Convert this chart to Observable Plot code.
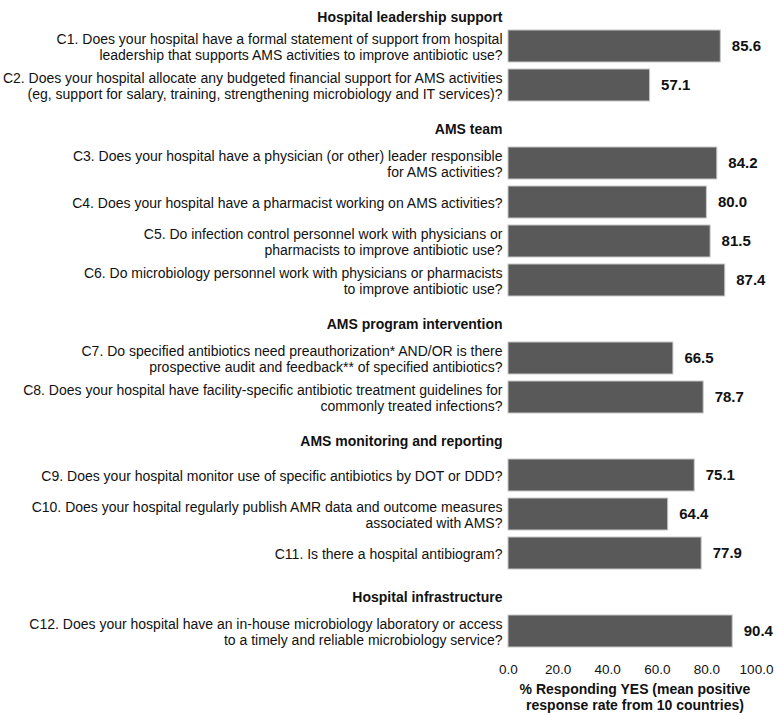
<!DOCTYPE html>
<html>
<head>
<meta charset="utf-8">
<script src="https://cdn.jsdelivr.net/npm/d3@7"></script>
<script src="https://cdn.jsdelivr.net/npm/@observablehq/plot@0.6"></script>
<style>
  body { margin: 0; background: #fff; font-family: "Liberation Sans", Arial, sans-serif; }
  #chart { width: 777px; }
  .xtitle { position: absolute; left: 508px; width: 254px; top: 681px; text-align: center; font-weight: bold; font-size: 14px; line-height: 16px; color: #111; }
</style>
</head>
<body>
<div id="chart"></div>
<div class="xtitle">% Responding YES (mean positive<br>response rate from 10 countries)</div>
<script>
const rows = ["H1","C1","C2","H2","C3","C4","C5","C6","H3","C7","C8","H4","C9","C10","C11","H5","C12"];
const headerIds = ["H1","H2","H3","H4","H5"];
const headerTexts = ["Hospital leadership support","AMS team","AMS program intervention","AMS monitoring and reporting","Hospital infrastructure"];
const questionIds = ["C1","C2","C3","C4","C5","C6","C7","C8","C9","C10","C11","C12"];
const questionTexts = [
  "C1. Does your hospital have a formal statement of support from hospital\nleadership that supports AMS activities to improve antibiotic use?",
  "C2. Does your hospital allocate any budgeted financial support for AMS activities\n(eg, support for salary, training, strengthening microbiology and IT services)?",
  "C3. Does your hospital have a physician (or other) leader responsible\nfor AMS activities?",
  "C4. Does your hospital have a pharmacist working on AMS activities?",
  "C5. Do infection control personnel work with physicians or\npharmacists to improve antibiotic use?",
  "C6. Do microbiology personnel work with physicians or pharmacists\nto improve antibiotic use?",
  "C7. Do specified antibiotics need preauthorization* AND/OR is there\nprospective audit and feedback** of specified antibiotics?",
  "C8. Does your hospital have facility-specific antibiotic treatment guidelines for\ncommonly treated infections?",
  "C9. Does your hospital monitor use of specific antibiotics by DOT or DDD?",
  "C10. Does your hospital regularly publish AMR data and outcome measures\nassociated with AMS?",
  "C11. Is there a hospital antibiogram?",
  "C12. Does your hospital have an in-house microbiology laboratory or access\nto a timely and reliable microbiology service?"
];
const values = [85.6, 57.1, 84.2, 80.0, 81.5, 87.4, 66.5, 78.7, 75.1, 64.4, 77.9, 90.4];
const xTicks = [0, 20, 40, 60, 80, 100];

const questions = questionIds.map((id, i) => ({id, text: questionTexts[i], value: values[i]}));
const headers = headerIds.map((id, i) => ({id, text: headerTexts[i]}));

const font = "'Liberation Sans', Arial, sans-serif";
const chart = Plot.plot({
  width: 777,
  height: 676,
  marginLeft: 508,
  marginRight: 15,
  marginTop: 0,
  marginBottom: 22,
  style: {fontFamily: font, color: "#111", background: "#fff", overflow: "visible"},
  x: {domain: [0, 100], range: [508, 756], label: null},
  y: {domain: rows, range: [-14.6, 651.5], paddingInner: 0.19, paddingOuter: 0, axis: null},
  marks: [
    Plot.ruleX([0], {y1: rows[0], y2: rows[rows.length - 1], stroke: "#d8d8d8", strokeWidth: 1.5, insetTop: -20, insetBottom: -20}),
    Plot.barX(questions, {x: "value", y: "id", fill: "#595959", stroke: "#c8c8c8", strokeWidth: 1}),
    Plot.text(questions, {x: "value", y: "id", text: d => d.value.toFixed(1), textAnchor: "start", dx: 11, fontWeight: "bold", fontSize: 15, fill: "#111"}),
    Plot.text(questions, {x: 0, y: "id", text: "text", textAnchor: "end", dx: -6, fontSize: 14, lineHeight: 1.15, fill: "#111"}),
    Plot.text(headers.slice(0, 1), {x: 0, y: "id", text: "text", textAnchor: "end", dx: -6, dy: 10, fontSize: 14, fontWeight: "bold", fill: "#111"}),
    Plot.text(headers.slice(1), {x: 0, y: "id", text: "text", textAnchor: "end", dx: -6, dy: 5, fontSize: 14, fontWeight: "bold", fill: "#111"}),
    Plot.axisX({ticks: xTicks, tickFormat: d => d.toFixed(1), tickSize: 0, tickPadding: 10, fontSize: 13.5, label: null, anchor: "bottom"})
  ]
});
document.getElementById("chart").appendChild(chart);
</script>
</body>
</html>
